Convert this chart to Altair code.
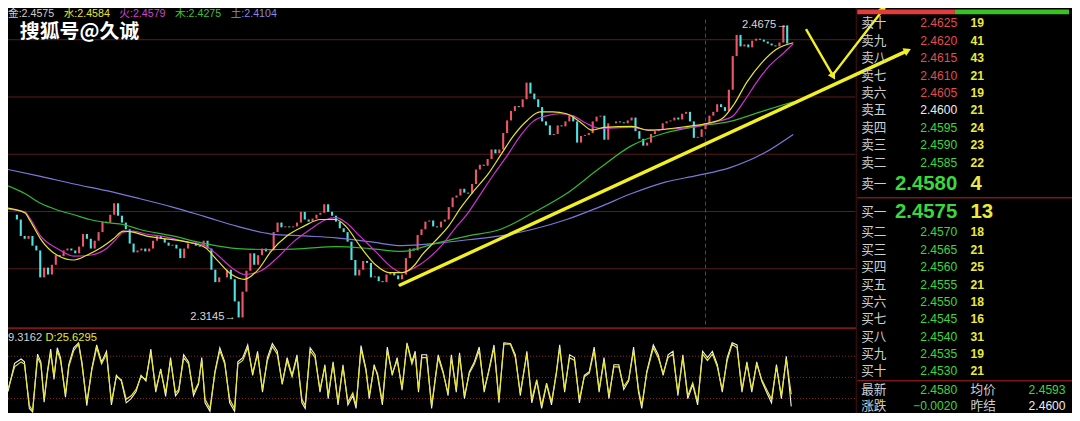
import altair as alt
import pandas as pd

W, H = 1064, 405
SX, SY = W / 1080, H / 421
FS = 0.97


def px(v):
    return round(v * SX, 2)


def py(v):
    return round(v * SY, 2)


# ---------------- data ----------------
closes = [
    2.3683, 2.3658, 2.3572, 2.3557, 2.3572, 2.3521, 2.3496, 2.3355, 2.3406, 2.3370,
    2.3421, 2.3471, 2.3466, 2.3496, 2.3506, 2.3496, 2.3481, 2.3516, 2.3582, 2.3557,
    2.3506, 2.3547, 2.3592, 2.3647, 2.3642, 2.3683, 2.3743, 2.3678, 2.3642, 2.3607,
    2.3532, 2.3486, 2.3496, 2.3506, 2.3491, 2.3506, 2.3547, 2.3572, 2.3557, 2.3537,
    2.3521, 2.3526, 2.3506, 2.3456, 2.3506, 2.3532, 2.3537, 2.3521, 2.3516, 2.3547,
    2.3506, 2.3395, 2.3330, 2.3355, 2.3355, 2.3395, 2.3345, 2.3229, 2.3145, 2.3280,
    2.3390, 2.3481, 2.3421, 2.3471, 2.3506, 2.3491, 2.3496, 2.3592, 2.3642, 2.3617,
    2.3622, 2.3617, 2.3622, 2.3642, 2.3698, 2.3658, 2.3647, 2.3663, 2.3683, 2.3693,
    2.3738, 2.3698, 2.3678, 2.3647, 2.3612, 2.3592, 2.3542, 2.3446, 2.3365, 2.3395,
    2.3441, 2.3431, 2.3355, 2.3360, 2.3335, 2.3330, 2.3370, 2.3380, 2.3365, 2.3345,
    2.3370, 2.3456, 2.3506, 2.3496, 2.3577, 2.3607, 2.3647, 2.3653, 2.3622, 2.3617,
    2.3647, 2.3658, 2.3723, 2.3773, 2.3784, 2.3819, 2.3799, 2.3794, 2.3844, 2.3920,
    2.3945, 2.3940, 2.3975, 2.4025, 2.4005, 2.4025, 2.4111, 2.4177, 2.4227, 2.4252,
    2.4247, 2.4288, 2.4375, 2.4318, 2.4288, 2.4247, 2.4172, 2.4151, 2.4101, 2.4106,
    2.4151, 2.4146, 2.4172, 2.4202, 2.4172, 2.4061, 2.4096, 2.4101, 2.4111, 2.4172,
    2.4197, 2.4202, 2.4076, 2.4162, 2.4162, 2.4172, 2.4167, 2.4162, 2.4177, 2.4192,
    2.4121, 2.4081, 2.4045, 2.4061, 2.4106, 2.4121, 2.4131, 2.4162, 2.4172, 2.4177,
    2.4192, 2.4182, 2.4212, 2.4222, 2.4172, 2.4086, 2.4091, 2.4131, 2.4162, 2.4202,
    2.4222, 2.4262, 2.4247, 2.4227, 2.4338, 2.4514, 2.4625, 2.4565, 2.4575, 2.4560,
    2.4595, 2.4605, 2.4600, 2.4590, 2.4580, 2.4570, 2.4565, 2.4585, 2.4675, 2.4580,
]

yel_t = [0, 4.25, 5.75, 8.25, 12.5, 16.75, 20, 23.25, 26.75, 29.25,
         31.75, 35, 40, 45, 50, 53.25, 56.75, 60, 63.25, 66.75,
         70.75, 75, 79.25, 83.25, 85.75, 89.25, 93.25, 96.75, 100, 103.25,
         105, 108.25, 111.75, 115, 118.25, 121.75, 125, 128.25, 131.75, 135,
         138.25, 141.75, 145, 148.25, 151.25, 158.25, 162.5, 166.75, 172.5, 177.5,
         181.25, 184.25, 187.5, 191.25, 195, 199.25]
yel_p = [2.3718, 2.3693, 2.3647, 2.3557, 2.3471, 2.3446, 2.3471, 2.3506, 2.3557, 2.3597,
         2.3592, 2.3572, 2.3557, 2.3542, 2.3511, 2.3441, 2.3370, 2.3345, 2.3390, 2.3491,
         2.3572, 2.3622, 2.3658, 2.3658, 2.3622, 2.3521, 2.3421, 2.3380, 2.3380, 2.3421,
         2.3471, 2.3542, 2.3622, 2.3723, 2.3809, 2.3894, 2.3995, 2.4096, 2.4177, 2.4222,
         2.4222, 2.4212, 2.4172, 2.4126, 2.4141, 2.4146, 2.4126, 2.4131, 2.4146, 2.4162,
         2.4187, 2.4262, 2.4378, 2.4479, 2.4550, 2.4584]

mag_t = [0, 4.25, 5.75, 8.25, 12.5, 16.75, 20.75, 25, 27.5, 29.25,
         31.75, 35, 40, 45, 50, 53.25, 56.75, 60, 64.25, 68.25,
         72.5, 76.75, 80.75, 83.25, 85.75, 89.25, 93.25, 97.5, 100, 103.25,
         106.75, 110, 113.25, 116.75, 120, 123.25, 126.75, 130, 133.25, 136.75,
         140, 143.25, 146.75, 150, 158.25, 162.5, 166.75, 175, 180, 183.75,
         186.75, 190, 193.25, 196.75, 199.25]
mag_p = [2.3713, 2.3698, 2.3658, 2.3572, 2.3506, 2.3466, 2.3471, 2.3506, 2.3557, 2.3592,
         2.3597, 2.3582, 2.3567, 2.3542, 2.3521, 2.3471, 2.3406, 2.3370, 2.3390, 2.3456,
         2.3542, 2.3607, 2.3658, 2.3668, 2.3642, 2.3572, 2.3491, 2.3406, 2.3380, 2.3406,
         2.3456, 2.3521, 2.3607, 2.3693, 2.3794, 2.3894, 2.3995, 2.4096, 2.4172, 2.4202,
         2.4212, 2.4202, 2.4162, 2.4136, 2.4141, 2.4126, 2.4131, 2.4146, 2.4172, 2.4197,
         2.4277, 2.4378, 2.4464, 2.4529, 2.4579]

grn_t = [0, 4.25, 8.25, 12.5, 16.75, 20.75, 25, 29.25, 33.25, 41.75,
         50, 58.25, 66.75, 75, 83.25, 91.75, 100, 108.25, 116.75, 125,
         133.25, 141.75, 150, 158.25, 166.75, 175, 183.25, 191.75, 199.25]
grn_p = [2.3834, 2.3794, 2.3743, 2.3708, 2.3683, 2.3658, 2.3642, 2.3632, 2.3607, 2.3572,
         2.3532, 2.3506, 2.3501, 2.3506, 2.3516, 2.3506, 2.3491, 2.3532, 2.3572, 2.3607,
         2.3693, 2.3794, 2.3925, 2.4045, 2.4111, 2.4146, 2.4172, 2.4227, 2.4275]

lav_t = [0, 8.25, 16.75, 25, 33.25, 41.75, 50, 58.25, 66.75, 75,
         83.25, 91.75, 100, 108.25, 116.75, 125, 133.25, 141.75, 150, 158.25,
         166.75, 175, 183.25, 191.75, 199.25]
lav_p = [2.3920, 2.3884, 2.3844, 2.3809, 2.3768, 2.3723, 2.3673, 2.3622, 2.3582, 2.3572,
         2.3562, 2.3542, 2.3521, 2.3532, 2.3552, 2.3572, 2.3607, 2.3658, 2.3723, 2.3794,
         2.3854, 2.3889, 2.3930, 2.4005, 2.4104]

ma_names = ["金", "水", "火", "木", "土"]
ma_last = [2.4575, 2.4584, 2.4579, 2.4275, 2.4104]

osc_t = [0, 1.67, 3.33, 4.17, 5.42, 6.25, 7.5, 8.33, 9.17, 10,
         10.83, 11.67, 12.5, 13.33, 14.58, 15.42, 16.67, 17.92, 18.75, 20,
         21.25, 22.5, 23.75, 25, 26.25, 27.5, 28.75, 30, 31.25, 32.5,
         33.75, 35, 36.25, 37.5, 38.75, 40, 41.25, 42.5, 43.33, 44.58,
         45.83, 47.08, 48.33, 49.17, 50, 51.25, 52.5, 53.75, 55, 56.25,
         57.5, 58.33, 59.58, 60.83, 62.08, 63.33, 64.58, 65.83, 67.08, 68.33,
         69.58, 70.83, 72.08, 73.33, 74.58, 75.42, 76.67, 77.92, 79.17, 80.42,
         81.25, 82.5, 83.75, 85, 86.25, 87.5, 88.33, 89.58, 90.83, 91.67,
         92.92, 93.75, 95, 96.25, 97.5, 98.75,
         100, 101.25, 102.5, 103.33, 104.17, 105, 106.25, 107.5, 109.17, 110.42,
         111.67, 112.5, 113.75, 114.58, 115.83, 117.08, 118.33, 119.58, 120.83, 122.08,
         123.33, 124.58, 125.83, 127.5, 128.75, 130, 131.67, 132.92, 134.17, 135.42,
         136.67, 137.92, 139.17, 140, 141.25, 142.5, 143.75, 145, 146.25, 147.5,
         148.75, 150, 151.25, 152.5, 153.75, 155, 156.25, 157.5, 158.75, 160,
         160.83, 162.08, 163.75, 165, 166.25, 167.5, 168.75, 170, 171.25, 172.5,
         173.75, 175, 176.25, 177.5, 178.75, 180, 181.25, 182.5, 183.75, 185,
         186.25, 187.5, 188.75, 190, 191.25, 192.5, 193.75, 195, 196.25, 197.5,
         198.75]
osc_d = [33, 65, 72, 69, 10, 3, 78, 69, 19, 56,
         85, 51, 88, 74, 26, 65, 88, 97, 69, 15,
         60, 92, 69, 83, 15, 51, 47, 19, 24, 33,
         51, 47, 85, 33, 60, 28, 74, 28, 33, 78,
         69, 28, 42, 74, 19, 6, 56, 88, 69, 19,
         6, 69, 74, 92, 56, 83, 33, 74, 94, 83,
         42, 74, 51, 78, 19, 10, 88, 78, 33, 65,
         24, 69, 15, 65, 15, 28, 10, 90, 60, 24,
         65, 56, 15, 88, 56, 74,
         35, 97, 69, 83, 33, 78, 78, 10, 78, 56,
         28, 78, 33, 81, 24, 56, 69, 88, 33, 60,
         92, 19, 97, 97, 78, 28, 83, 19, 47, 10,
         42, 15, 56, 92, 33, 78, 74, 19, 51, 56,
         88, 33, 74, 24, 65, 65, 37, 47, 88, 33,
         10, 56, 92, 78, 56, 78, 83, 28, 78, 24,
         42, 15, 83, 74, 83, 65, 33, 74, 97, 92,
         33, 69, 33, 69, 47, 33, 19, 65, 24, 76,
         26]
osc_k = [30, 70, 76, 72, 6, 1, 83, 72, 15, 58,
         90, 47, 92, 78, 22, 68, 92, 99, 72, 10,
         62, 96, 72, 87, 11, 53, 45, 14, 20, 30,
         53, 45, 90, 29, 62, 23, 78, 24, 30, 82,
         72, 24, 40, 78, 14, 2, 58, 92, 72, 14,
         2, 72, 78, 96, 53, 87, 29, 78, 98, 87,
         40, 78, 53, 82, 14, 6, 92, 82, 29, 68,
         20, 72, 11, 68, 11, 24, 6, 95, 62, 20,
         68, 53, 11, 93, 53, 78,
         32, 99, 72, 87, 29, 82, 82, 6, 82, 58,
         24, 82, 29, 85, 20, 58, 72, 93, 29, 62,
         96, 14, 99, 98, 82, 24, 87, 14, 45, 6,
         40, 11, 58, 96, 29, 82, 78, 14, 53, 58,
         93, 29, 78, 20, 68, 68, 33, 45, 93, 29,
         6, 58, 96, 82, 53, 82, 87, 24, 82, 20,
         40, 11, 87, 78, 87, 68, 29, 78, 99, 96,
         29, 72, 29, 72, 45, 29, 14, 68, 20, 80,
         9]
osc_k_last = 9.3162
osc_d_last = 25.6295

grid_prices = [2.46, 2.43, 2.40, 2.37, 2.34]
osc_levels = [20, 50, 80]
marker_t = 177
trend_t = [99.5, 228]
trend_p = [2.3315, 2.4540]
vee_t = [202.5, 209.25, 222]
vee_p = [2.4655, 2.4414, 2.4756]

sell_labels = ["卖十", "卖九", "卖八", "卖七", "卖六", "卖五", "卖四", "卖三", "卖二", "卖一"]
sell_prices = [2.4625, 2.4620, 2.4615, 2.4610, 2.4605, 2.4600, 2.4595, 2.4590, 2.4585, 2.4580]
sell_vols = [19, 41, 43, 21, 19, 21, 24, 23, 22, 4]
buy_labels = ["买一", "买二", "买三", "买四", "买五", "买六", "买七", "买八", "买九", "买十"]
buy_prices = [2.4575, 2.4570, 2.4565, 2.4560, 2.4555, 2.4550, 2.4545, 2.4540, 2.4535, 2.4530]
buy_vols = [13, 18, 21, 25, 21, 18, 16, 31, 19, 21]
sum_labels = ["最新", "涨跌", "均价", "昨结"]
last_price = 2.4580
change = -0.0020
avg_price = 2.4593
prev_settle = 2.4600

# ---------------- styles ----------------
UP, DOWN = "#f0566a", "#4fe3e3"
YEL, MAG, GRN, LAV = "#e8e62c", "#cf33cf", "#33b833", "#7b78d8"
GRID, OSCGRID, SEP, DASH = "#5a1c1c", "#8a2424", "#7c1818", "#a82020"
RED, FLAT, GREEN = "#e04e4e", "#ececec", "#3ad83a"
LABEL, VOL = "#cfcfcf", "#ecea3c"
NUM = "Liberation Sans, DejaVu Sans, sans-serif"
CJK = "Noto Sans CJK SC, sans-serif"

T = alt.Scale(domain=[0, 199], range=[px(0), px(796)])
P = alt.Scale(domain=[2.3088, 2.4766], range=[py(333), py(0)])
O = alt.Scale(domain=[0, 100], range=[py(420.7), py(347.3)])
ROW = alt.Scale(domain=[0, 8, 9, 10, 11, 19, 20, 21],
                range=[py(16), py(160.7), py(182.5), py(212), py(233.3), py(377.7), py(397.3), py(413.8)])
COL = alt.Scale(domain=[0, 1, 2, 3], range=[px(866), px(963.5), px(977), px(1073.5)])
DIR = alt.Scale(domain=["up", "flat", "down"], range=[RED, FLAT, GREEN])


def X(f, s=T):
    return alt.X(f, scale=s, axis=None)


def Y(f, s=P):
    return alt.Y(f, scale=s, axis=None)


def direction(v, ref=prev_settle):
    return "up" if v > ref + 1e-9 else ("down" if v < ref - 1e-9 else "flat")


one = pd.DataFrame({"k": [0]})
layers = []

# grid and frames
layers.append(alt.Chart(pd.DataFrame({"p": grid_prices})).mark_rule(color=GRID, strokeWidth=1).encode(
    y=Y("p:Q"), x=alt.value(0), x2=alt.value(px(860))))
layers.append(alt.Chart(pd.DataFrame({"v": osc_levels})).mark_rule(
    color=OSCGRID, strokeWidth=1, strokeDash=[1, 2]).encode(
    y=Y("v:Q", O), x=alt.value(0), x2=alt.value(px(860))))
layers.append(alt.Chart(one).mark_rule(color=SEP, strokeWidth=2).encode(
    x=alt.value(0), x2=alt.value(px(861)), y=alt.value(py(333))))
layers.append(alt.Chart(one).mark_rule(color="#4a1010", strokeWidth=1).encode(
    x=alt.value(px(861)), y=alt.value(0), y2=alt.value(H)))
layers.append(alt.Chart(pd.DataFrame({"row": [9.5, 19.5]})).mark_rule(color=SEP, strokeWidth=1.5).encode(
    y=Y("row:Q", ROW), x=alt.value(px(862)), x2=alt.value(W)))
layers.append(alt.Chart(pd.DataFrame({"t": [marker_t]})).mark_rule(
    color=DASH, strokeWidth=1, strokeDash=[4, 3]).encode(
    x=X("t:Q"), y=alt.value(py(12)), y2=alt.value(py(333))))

# candles
opens = [closes[0]] + closes[:-1]
cdf = pd.DataFrame({"t": list(range(len(closes))), "open": opens, "close": closes})
cdf["dir"] = ["up" if c >= o else "down" for o, c in zip(opens, closes)]
layers.append(alt.Chart(cdf).mark_bar(size=2.1).encode(
    x=X("t:Q"), y=Y("open:Q"), y2="close:Q",
    color=alt.Color("dir:N", scale=alt.Scale(domain=["up", "down"], range=[UP, DOWN]), legend=None)))


def ma(ts, ps, color, w=1.2):
    n = min(len(ts), len(ps))
    d = pd.DataFrame({"t": ts[:n], "p": ps[:n]})
    return alt.Chart(d).mark_line(color=color, strokeWidth=w, interpolate="monotone").encode(
        x=X("t:Q"), y=Y("p:Q"))


layers += [ma(lav_t, lav_p, LAV), ma(grn_t, grn_p, GRN), ma(mag_t, mag_p, MAG), ma(yel_t, yel_p, YEL)]

# hand-drawn annotations
layers.append(alt.Chart(pd.DataFrame({"t": trend_t, "p": trend_p})).mark_line(
    color="#f2f020", strokeWidth=3.4, strokeCap="round").encode(x=X("t:Q"), y=Y("p:Q")))
layers.append(alt.Chart(pd.DataFrame({"t": vee_t, "p": vee_p, "o": [0, 1, 2]})).mark_line(
    color="#f2f020", strokeWidth=2.4).encode(x=X("t:Q"), y=Y("p:Q"), order="o:Q"))
for tt, pp, ang in [(trend_t[-1], trend_p[-1], 65), (vee_t[-1], vee_p[-1], 37.5), (vee_t[1], vee_p[1], 150)]:
    layers.append(alt.Chart(pd.DataFrame({"t": [tt], "p": [pp]})).mark_point(
        shape="triangle", filled=True, size=70, angle=ang, color="#f2f020", opacity=1).encode(
        x=X("t:Q"), y=Y("p:Q")))

# extreme labels
hi, lo = max(closes), min(closes)
edf = pd.DataFrame({"t": [closes.index(hi), closes.index(lo)], "p": [hi, lo],
                    "lbl": [f"{hi:.4f}→", f"{lo:.4f}→"]})
layers.append(alt.Chart(edf).mark_text(align="right", baseline="middle", dx=-1, color="#d8d8d8",
                                       font=NUM, fontSize=11.5 * FS).encode(
    x=X("t:Q"), y=Y("p:Q"), text="lbl:N"))

# oscillator
n = min(len(osc_t), len(osc_k), len(osc_d))
odf = pd.DataFrame({"t": osc_t[:n], "k": osc_k[:n], "d": osc_d[:n]})
layers.append(alt.Chart(odf).mark_line(color="#f4f4f4", strokeWidth=1.1).encode(x=X("t:Q"), y=Y("k:Q", O)))
layers.append(alt.Chart(odf).mark_line(color=YEL, strokeWidth=1.2).encode(x=X("t:Q"), y=Y("d:Q", O)))

# header texts
hdf = pd.DataFrame({"i": list(range(5)), "name": ma_names,
                    "lbl": [f"{a}:{b:.4f}" for a, b in zip(ma_names, ma_last)]})
layers.append(alt.Chart(hdf).mark_text(align="left", baseline="middle", font="Liberation Sans, Noto Sans CJK SC",
                                       fontSize=11 * FS).encode(
    x=X("i:Q", alt.Scale(domain=[0, 4], range=[px(0), px(226)])), y=alt.value(py(6.5)), text="lbl:N",
    color=alt.Color("name:N", scale=alt.Scale(domain=ma_names,
                                              range=["#cfcfcf", YEL, "#d244d2", "#3cc03c", "#8a86e0"]),
                    legend=None)))
layers.append(alt.Chart(pd.DataFrame({"txt": ["搜狐号@久诚"]})).mark_text(
    align="left", baseline="middle", font=CJK, fontSize=20.5 * FS, fontWeight="bold", color="#ffffff").encode(
    x=alt.value(px(12)), y=alt.value(py(24.5)), text="txt:N"))
layers.append(alt.Chart(pd.DataFrame({"txt": [f"{osc_k_last:.4f}"]})).mark_text(
    align="left", baseline="middle", font=NUM, fontSize=11.5 * FS, color="#d0d0d0").encode(
    x=alt.value(0), y=alt.value(py(343)), text="txt:N"))
layers.append(alt.Chart(pd.DataFrame({"txt": [f"D:{osc_d_last:.4f}"]})).mark_text(
    align="left", baseline="middle", font=NUM, fontSize=11.5 * FS, color=YEL).encode(
    x=alt.value(px(38)), y=alt.value(py(343)), text="txt:N"))

# order book: buy/sell ratio bar
share = sum(buy_vols) / (sum(buy_vols) + sum(sell_vols))
rdf = pd.DataFrame({"a": [0, share], "b": [share, 1], "side": ["buy", "sell"]})
layers.append(alt.Chart(rdf).mark_rect().encode(
    x=X("a:Q", alt.Scale(domain=[0, 1], range=[px(862), px(1077)])), x2="b:Q",
    y=alt.value(py(1.5)), y2=alt.value(py(6.5)),
    color=alt.Color("side:N", scale=alt.Scale(domain=["buy", "sell"], range=["#e23c3c", "#3cc21e"]),
                    legend=None)))

rows = list(range(20))
lab = pd.DataFrame({"row": rows + [20, 21, 20, 21], "col": [0] * 22 + [2, 2],
                    "txt": sell_labels + buy_labels + sum_labels})
layers.append(alt.Chart(lab).mark_text(align="left", baseline="middle", font=CJK,
                                       fontSize=13 * FS, color=LABEL).encode(
    x=X("col:Q", COL), y=Y("row:Q", ROW), text="txt:N"))

prices = sell_prices + buy_prices
vols = sell_vols + buy_vols
big = [r in (9, 10) for r in rows]
pdf = pd.DataFrame({"row": rows, "col": 1, "v": prices, "dir": [direction(v) for v in prices], "big": big})
sdf = pd.DataFrame({"row": [20, 21, 20, 21], "col": [1, 1, 3, 3],
                    "v": [last_price, change, avg_price, prev_settle],
                    "dir": [direction(last_price), direction(change, 0), direction(avg_price),
                            direction(prev_settle)], "big": False})
small = pd.concat([pdf[~pdf["big"]], sdf], ignore_index=True)
layers.append(alt.Chart(small).mark_text(align="right", baseline="middle", font=NUM,
                                         fontSize=12.5 * FS).encode(
    x=X("col:Q", COL), y=Y("row:Q", ROW), text=alt.Text("v:Q", format=".4f"),
    color=alt.Color("dir:N", scale=DIR, legend=None)))
layers.append(alt.Chart(pdf[pdf["big"]]).mark_text(align="right", baseline="middle", font=NUM,
                                                   fontSize=21 * FS, fontWeight="bold").encode(
    x=X("col:Q", COL), y=Y("row:Q", ROW), text=alt.Text("v:Q", format=".4f"),
    color=alt.Color("dir:N", scale=DIR, legend=None)))
vdf = pd.DataFrame({"row": rows, "col": 2, "vol": vols, "big": big})
layers.append(alt.Chart(vdf[~vdf["big"]]).mark_text(align="left", baseline="middle", font=NUM,
                                                    fontSize=12.5 * FS, fontWeight="bold", color=VOL).encode(
    x=X("col:Q", COL), y=Y("row:Q", ROW), text="vol:Q"))
layers.append(alt.Chart(vdf[vdf["big"]]).mark_text(align="left", baseline="middle", font=NUM,
                                                   fontSize=21 * FS, fontWeight="bold", color=VOL).encode(
    x=X("col:Q", COL), y=Y("row:Q", ROW), text="vol:Q"))

chart = alt.layer(*layers).resolve_scale(
    x="independent", y="independent", color="independent"
).properties(
    width=W, height=H, padding=0, background="#000000", autosize="none"
).configure_view(stroke=None)

chart.save("out.html", embed_options={"renderer": "svg", "actions": False})
